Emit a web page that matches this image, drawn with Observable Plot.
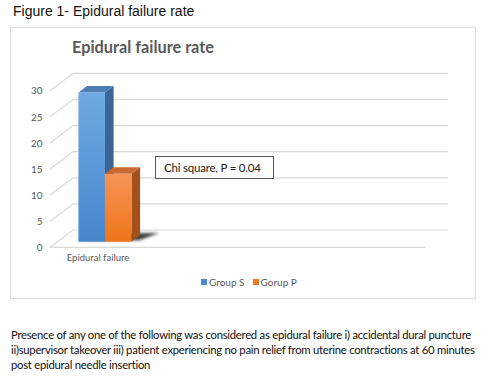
<!DOCTYPE html>
<html>
<head>
<meta charset="utf-8">
<script src="https://cdn.jsdelivr.net/npm/d3@7"></script>
<script src="https://cdn.jsdelivr.net/npm/@observablehq/plot@0.6"></script>
<style>
  html, body { margin: 0; padding: 0; background: #fff; }
  body { width: 498px; height: 377px; position: relative; overflow: hidden; }
  #fig { position: absolute; left: 13px; top: 3px; font-family: "Liberation Sans", Arial, sans-serif; font-size: 14px; color: #111; }
  #box { position: absolute; left: 10px; top: 27px; width: 464px; height: 270px; border: 1px solid #e0e0e0; }
  #title { position: absolute; left: 72px; top: 37px; font-family: Lato, sans-serif; font-weight: bold; font-size: 16.3px; color: #595959; }
  #chart { position: absolute; left: 10px; top: 60px; }
  #note { position: absolute; left: 155px; top: 156px; width: 117px; height: 21px; border: 1px solid #555; background: #fff;
          font-family: Lato, sans-serif; font-size: 11.5px; letter-spacing: -0.2px; color: #222; line-height: 21px; text-indent: 8px; }
  #legend { position: absolute; left: 201px; top: 276px; font-family: Lato, sans-serif; font-size: 10px; color: #595959; display: flex; gap: 8px; }
  #legend span.sw { display: inline-block; width: 6px; height: 6px; margin-right: 2px; vertical-align: 1px; }
  #caption { position: absolute; left: 11px; top: 327px; white-space: nowrap; font-family: Lato, sans-serif; font-size: 11.3px; letter-spacing: -0.26px; line-height: 15px; color: #111; }
</style>
</head>
<body>
<div id="fig">Figure 1- Epidural failure rate</div>
<div id="box"></div>
<div id="title">Epidural failure rate</div>
<div id="chart"></div>
<div id="note">Chi square, P = 0.04</div>
<div id="legend"></div>
<div id="caption">Presence of any one of the following was considered as epidural failure i) accidental dural puncture<br>ii)supervisor takeover iii) patient experiencing no pain relief from uterine contractions at 60 minutes<br>post epidural needle insertion</div>
<script>
const categories = ["Epidural failure"];
const groups = ["Group S", "Gorup P"];
const values = [28.6, 13];
const yTicks = [0, 5, 10, 15, 20, 25, 30];

const colors = {
  "Group S": {legend: "#4a8ad4", top: "#4d7db3", side: "#3a6594", front0: "#6fa9e3", front1: "#4586cc"},
  "Gorup P": {legend: "#f07a22", top: "#c8692f", side: "#a3501b", front0: "#f59456", front1: "#ee7519"}
};

const rows = groups.map((g, i) => ({category: categories[0], group: g, value: values[i]}));

// 3D geometry (back wall offset, in pixels)
const DX = 23, DY = 17.3;
const F1 = 0.324, F2 = 0.70;

function chart3d(index, scales, vals, dims) {
  const x = scales.x, y = scales.y;
  const g = d3.create("svg:g");
  const defs = g.append("defs");
  const left = dims.marginLeft, right = dims.width - dims.marginRight;
  const grid = "#d9d9d9";
  for (const t of yTicks) {
    g.append("line").attr("x1", left + DX).attr("x2", right + DX)
      .attr("y1", y(t) - DY).attr("y2", y(t) - DY).attr("stroke", grid).attr("stroke-width", 1.2);
    g.append("line").attr("x1", left).attr("x2", left + DX)
      .attr("y1", y(t)).attr("y2", y(t) - DY).attr("stroke", grid).attr("stroke-width", 1.2);
  }
  g.append("line").attr("x1", left).attr("x2", right).attr("y1", y(0)).attr("y2", y(0))
    .attr("stroke", grid).attr("stroke-width", 1.2);

  let bw = typeof x.bandwidth === "function" ? x.bandwidth() : x.bandwidth;
  if (!(bw > 0) && typeof x.range === "function") { const r = x.range(); bw = Math.abs(r[1] - r[0]); }
  const inner = d3.scaleBand().domain(groups).range([x(categories[0]), x(categories[0]) + bw]).padding(0);
  const P = (px, v, f) => [px + DX * f, y(v) - DY * f];
  const poly = pts => pts.map(p => p.join(",")).join(" ");

  const filt = defs.append("filter").attr("id", "blur").attr("x", "-50%").attr("y", "-50%").attr("width", "200%").attr("height", "200%");
  filt.append("feGaussianBlur").attr("stdDeviation", 1.8);
  const sx0 = inner(groups[0]), sx1 = inner(groups[groups.length - 1]) + inner.bandwidth();
  g.append("polygon").attr("points", poly([
      P(sx0 - 3, 0, F1 + 0.08), P(sx1 + 6, 0, F1 + 0.08), P(sx1 + 16, 0, F2 + 0.12), P(sx0 + 10, 0, F2 + 0.1)
    ])).attr("fill", "#1a1a1a").attr("opacity", 0.85).attr("filter", "url(#blur)");

  rows.forEach((r, i) => {
    const c = colors[r.group];
    const gid = "grad" + i;
    const lg = defs.append("linearGradient").attr("id", gid).attr("x1", 0).attr("x2", 0).attr("y1", 0).attr("y2", 1);
    lg.append("stop").attr("offset", "0%").attr("stop-color", c.front0);
    lg.append("stop").attr("offset", "100%").attr("stop-color", c.front1);
    const x0 = inner(r.group), x1 = x0 + inner.bandwidth();
    g.append("polygon").attr("points", poly([P(x1, 0, F1), P(x1, r.value, F1), P(x1, r.value, F2), P(x1, 0, F2)]))
      .attr("fill", c.side);
    g.append("polygon").attr("points", poly([P(x0, r.value, F1), P(x1, r.value, F1), P(x1, r.value, F2), P(x0, r.value, F2)]))
      .attr("fill", c.top);
    const a = P(x0, r.value, F1), b = P(x1, 0, F1);
    g.append("rect").attr("x", a[0]).attr("y", a[1]).attr("width", b[0] - a[0]).attr("height", b[1] - a[1])
      .attr("fill", `url(#${gid})`);
  });
  return g.node();
}

const plot = Plot.plot({
  width: 465,
  height: 215,
  marginLeft: 40,
  marginRight: 50,
  marginTop: 30.7,
  marginBottom: 27.7,
  style: {fontFamily: "Lato, sans-serif", background: "transparent", overflow: "visible"},
  x: {type: "band", domain: categories, range: [60.5, 113.5], padding: 0, axis: null},
  y: {domain: [0, 30], axis: null},
  marks: [
    chart3d,
    Plot.text(yTicks, {y: d => d, frameAnchor: "left", dx: -8, textAnchor: "end", fill: "#595959", fontSize: 10}),
    Plot.text(categories, {x: d => d, frameAnchor: "bottom", dy: 13, fill: "#595959", fontSize: 9.5})
  ]
});
document.getElementById("chart").appendChild(plot);

const legend = d3.select("#legend");
groups.forEach(gname => {
  const item = legend.append("div");
  item.append("span").attr("class", "sw").style("background", colors[gname].legend);
  item.append("span").text(gname);
});
</script>
</body>
</html>
